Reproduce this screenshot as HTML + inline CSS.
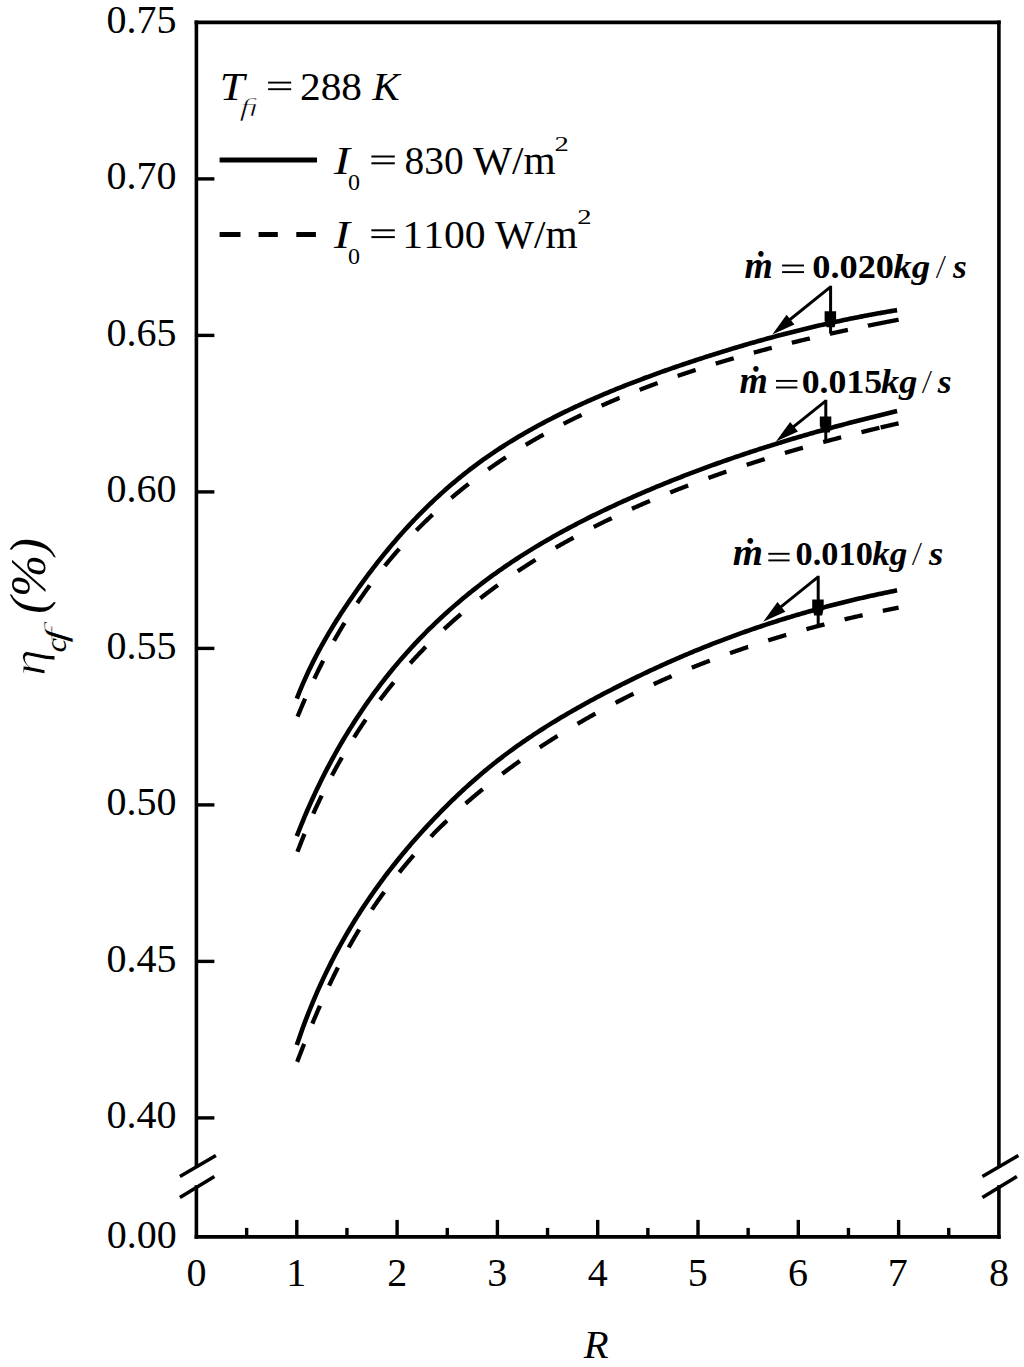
<!DOCTYPE html>
<html><head><meta charset="utf-8"><title>chart</title><style>
html,body{margin:0;padding:0;background:#fff;overflow:hidden;}
svg{display:block;}
text{font-family:"Liberation Serif",serif;fill:#000;font-kerning:none;}
</style></head><body>
<svg width="1024" height="1367" viewBox="0 0 1024 1367">
<rect width="1024" height="1367" fill="#fff"/>
<g stroke="#000" stroke-width="3.6" fill="none" stroke-linecap="square">
<path d="M196.4,22.4 H998.9"/>
<path d="M196.4,1236.9 H998.9"/>
<path d="M196.4,22.4 V1166.0"/>
<path d="M196.4,1187.0 V1236.9"/>
<path d="M998.9,22.4 V1166.0"/>
<path d="M998.9,1187.0 V1236.9"/>
</g>
<g stroke="#000" stroke-width="3.6" fill="none">
<path d="M179.9,1176.5 L215.9,1155.5"/>
<path d="M179.9,1197.5 L214.4,1176.5"/>
<path d="M982.4,1176.5 L1018.4,1155.5"/>
<path d="M982.4,1197.5 L1016.9,1176.5"/>
</g>
<g stroke="#000" stroke-width="3.4" fill="none">
<path d="M196.4,1117.90 H214.4"/>
<path d="M196.4,961.40 H214.4"/>
<path d="M196.4,804.90 H214.4"/>
<path d="M196.4,648.40 H214.4"/>
<path d="M196.4,491.90 H214.4"/>
<path d="M196.4,335.40 H214.4"/>
<path d="M196.4,178.90 H214.4"/>
<path d="M246.65,1236.9 V1227.9"/>
<path d="M296.80,1236.9 V1219.9"/>
<path d="M346.95,1236.9 V1227.9"/>
<path d="M397.10,1236.9 V1219.9"/>
<path d="M447.25,1236.9 V1227.9"/>
<path d="M497.40,1236.9 V1219.9"/>
<path d="M547.55,1236.9 V1227.9"/>
<path d="M597.70,1236.9 V1219.9"/>
<path d="M647.85,1236.9 V1227.9"/>
<path d="M698.00,1236.9 V1219.9"/>
<path d="M748.15,1236.9 V1227.9"/>
<path d="M798.30,1236.9 V1219.9"/>
<path d="M848.45,1236.9 V1227.9"/>
<path d="M898.60,1236.9 V1219.9"/>
<path d="M948.75,1236.9 V1227.9"/>
</g>
<text transform="translate(108.05,1128.20)" x="-1.52" y="0" style="font-size:40.00px;" >0.40</text>
<text transform="translate(108.09,971.70)" x="-1.52" y="0" style="font-size:40.00px;" >0.45</text>
<text transform="translate(108.05,815.20)" x="-1.52" y="0" style="font-size:40.00px;" >0.50</text>
<text transform="translate(108.09,658.70)" x="-1.52" y="0" style="font-size:40.00px;" >0.55</text>
<text transform="translate(108.05,502.20)" x="-1.52" y="0" style="font-size:40.00px;" >0.60</text>
<text transform="translate(108.09,345.70)" x="-1.52" y="0" style="font-size:40.00px;" >0.65</text>
<text transform="translate(108.05,189.20)" x="-1.52" y="0" style="font-size:40.00px;" >0.70</text>
<text transform="translate(108.09,32.70)" x="-1.52" y="0" style="font-size:40.00px;" >0.75</text>
<text transform="translate(108.25,1247.90)" x="-1.52" y="0" style="font-size:40.00px;" >0.00</text>
<text transform="translate(188.02,1286.00)" x="-1.52" y="0" style="font-size:40.00px;" >0</text>
<text transform="translate(289.76,1286.00)" x="-3.52" y="0" style="font-size:40.00px;" >1</text>
<text transform="translate(389.08,1286.00)" x="-1.76" y="0" style="font-size:40.00px;" >2</text>
<text transform="translate(489.14,1286.00)" x="-1.91" y="0" style="font-size:40.00px;" >3</text>
<text transform="translate(588.40,1286.00)" x="-0.78" y="0" style="font-size:40.00px;" >4</text>
<text transform="translate(689.94,1286.00)" x="-2.32" y="0" style="font-size:40.00px;" >5</text>
<text transform="translate(789.76,1286.00)" x="-1.72" y="0" style="font-size:40.00px;" >6</text>
<text transform="translate(890.49,1286.00)" x="-2.64" y="0" style="font-size:40.00px;" >7</text>
<text transform="translate(990.42,1286.00)" x="-1.52" y="0" style="font-size:40.00px;" >8</text>
<text transform="translate(583.50,1358.30) scale(1.0173,1)" x="0.21" y="0" style="font-size:40.00px;font-style:italic;" >R</text>
<g transform="rotate(-90)">
<text transform="translate(-674.20,45.40) scale(1.1239,1)" x="-1.71" y="0" style="font-size:48.00px;font-style:italic;" stroke="#fff" stroke-width="0.9">η</text>
<text transform="translate(-651.60,66.20) scale(1.0900,1)" x="-0.93" y="0" style="font-size:30.10px;font-style:italic;" >c</text>
<text transform="translate(-642.80,66.30) scale(1.8150,1)" x="-0.35" y="0" style="font-size:31.60px;font-style:italic;" stroke="#fff" stroke-width="0.6">f</text>
<text transform="translate(-612.10,45.30) scale(0.9791,1)" x="-1.81" y="0" style="font-size:51.60px;font-style:italic;" >(%)</text>
</g>
<text transform="translate(222.70,100.00) scale(1.1095,1)" x="-2.62" y="0" style="font-size:40.00px;font-style:italic;" >T</text>
<text transform="translate(239.60,116.00) scale(1.5873,1)" x="-0.28" y="0" style="font-size:25.00px;font-style:italic;" stroke="#fff" stroke-width="0.7">ﬁ</text>
<rect x="268.10" y="81.65" width="23.10" height="1.90" fill="#000"/>
<rect x="268.10" y="88.25" width="23.10" height="1.90" fill="#000"/>
<text transform="translate(301.80,100.00) scale(1.0332,1)" x="-1.76" y="0" style="font-size:40.00px;" >288</text>
<text transform="translate(372.00,100.00) scale(1.0185,1)" x="0.47" y="0" style="font-size:40.00px;font-style:italic;" >K</text>
<path d="M219.6,159.9 H317.0" stroke="#000" stroke-width="5.0"/>
<path d="M219.6,234.4 H240.5 M258.6,234.4 H277.8 M296.3,234.4 H315.9" stroke="#000" stroke-width="5.0"/>
<text transform="translate(333.80,173.80) scale(1.1969,1)" x="0.16" y="0" style="font-size:40.00px;font-style:italic;" >I</text>
<text transform="translate(348.90,190.10)" x="-0.91" y="0" style="font-size:24.00px;" >0</text>
<rect x="371.40" y="155.50" width="23.40" height="2.00" fill="#000"/>
<rect x="371.40" y="162.30" width="23.40" height="2.00" fill="#000"/>
<text transform="translate(406.00,173.80) scale(0.9850,1)" x="-1.52" y="0" style="font-size:40.00px;" >830</text>
<text transform="translate(473.10,173.80) scale(1.0338,1)" x="-0.04" y="0" style="font-size:40.00px;" >W/m</text>
<text transform="translate(555.70,150.50) scale(1.3040,1)" x="-0.97" y="0" style="font-size:22.00px;" >2</text>
<text transform="translate(333.80,247.60) scale(1.1969,1)" x="0.16" y="0" style="font-size:40.00px;font-style:italic;" >I</text>
<text transform="translate(348.90,263.90)" x="-0.91" y="0" style="font-size:24.00px;" >0</text>
<rect x="371.40" y="229.30" width="23.40" height="2.00" fill="#000"/>
<rect x="371.40" y="236.10" width="23.40" height="2.00" fill="#000"/>
<text transform="translate(406.00,247.60) scale(1.0405,1)" x="-3.52" y="0" style="font-size:40.00px;" >1100</text>
<text transform="translate(495.00,247.60) scale(1.0338,1)" x="-0.04" y="0" style="font-size:40.00px;" >W/m</text>
<text transform="translate(578.40,224.30) scale(1.3040,1)" x="-0.97" y="0" style="font-size:22.00px;" >2</text>
<g stroke="#000" fill="none" stroke-width="4.6" stroke-linejoin="round" stroke-linecap="butt">
<path d="M296.80,698.58 L298.81,693.52 L300.82,688.63 L302.82,683.90 L304.83,679.33 L306.84,674.89 L308.85,670.58 L310.85,666.39 L312.86,662.31 L314.87,658.34 L316.88,654.47 L318.88,650.68 L320.89,646.98 L322.90,643.36 L324.91,639.82 L326.92,636.34 L328.92,632.93 L330.93,629.57 L332.94,626.28 L334.95,623.03 L336.95,619.84 L338.96,616.69 L340.97,613.58 L342.98,610.51 L344.98,607.48 L346.99,604.49 L349.00,601.53 L351.01,598.60 L353.01,595.69 L355.02,592.82 L357.03,589.97 L359.04,587.15 L361.05,584.35 L363.05,581.58 L365.06,578.84 L367.07,576.13 L369.08,573.44 L371.08,570.78 L373.09,568.15 L375.10,565.54 L377.11,562.96 L379.11,560.40 L381.12,557.88 L383.13,555.37 L385.14,552.90 L387.15,550.45 L389.15,548.02 L391.16,545.62 L393.17,543.25 L395.18,540.90 L397.18,538.58 L399.19,536.28 L401.20,534.01 L403.21,531.76 L405.21,529.53 L407.22,527.33 L409.23,525.16 L411.24,523.00 L413.25,520.87 L415.25,518.77 L417.26,516.68 L419.27,514.62 L421.28,512.58 L423.28,510.57 L425.29,508.57 L427.30,506.60 L429.31,504.65 L431.31,502.72 L433.32,500.81 L435.33,498.93 L437.34,497.06 L439.34,495.22 L441.35,493.39 L443.36,491.59 L445.37,489.81 L447.38,488.04 L449.38,486.30 L451.39,484.57 L453.40,482.87 L455.41,481.18 L457.41,479.52 L459.42,477.87 L461.43,476.24 L463.44,474.63 L465.44,473.03 L467.45,471.46 L469.46,469.90 L471.47,468.36 L473.48,466.84 L475.48,465.34 L477.49,463.85 L479.50,462.38 L481.51,460.93 L483.51,459.49 L485.52,458.07 L487.53,456.66 L489.54,455.27 L491.54,453.90 L493.55,452.54 L495.56,451.19 L497.57,449.86 L499.57,448.54 L501.58,447.24 L503.59,445.95 L505.60,444.67 L507.61,443.41 L509.61,442.16 L511.62,440.92 L513.63,439.69 L515.64,438.48 L517.64,437.27 L519.65,436.08 L521.66,434.90 L523.67,433.73 L525.67,432.58 L527.68,431.43 L529.69,430.29 L531.70,429.17 L533.71,428.05 L535.71,426.94 L537.72,425.85 L539.73,424.76 L541.74,423.68 L543.74,422.61 L545.75,421.56 L547.76,420.51 L549.77,419.46 L551.77,418.43 L553.78,417.41 L555.79,416.39 L557.80,415.38 L559.81,414.39 L561.81,413.39 L563.82,412.41 L565.83,411.43 L567.84,410.47 L569.84,409.51 L571.85,408.55 L573.86,407.61 L575.87,406.67 L577.87,405.74 L579.88,404.81 L581.89,403.89 L583.90,402.98 L585.90,402.07 L587.91,401.18 L589.92,400.28 L591.93,399.40 L593.94,398.52 L595.94,397.64 L597.95,396.78 L599.96,395.91 L601.97,395.06 L603.97,394.21 L605.98,393.36 L607.99,392.52 L610.00,391.69 L612.00,390.86 L614.01,390.04 L616.02,389.22 L618.03,388.41 L620.04,387.60 L622.04,386.80 L624.05,386.00 L626.06,385.20 L628.07,384.42 L630.07,383.63 L632.08,382.85 L634.09,382.08 L636.10,381.31 L638.10,380.54 L640.11,379.78 L642.12,379.03 L644.13,378.27 L646.14,377.53 L648.14,376.78 L650.15,376.04 L652.16,375.31 L654.17,374.58 L656.17,373.85 L658.18,373.12 L660.19,372.40 L662.20,371.69 L664.20,370.97 L666.21,370.27 L668.22,369.56 L670.23,368.86 L672.23,368.16 L674.24,367.46 L676.25,366.77 L678.26,366.09 L680.27,365.40 L682.27,364.72 L684.28,364.04 L686.29,363.37 L688.30,362.70 L690.30,362.03 L692.31,361.36 L694.32,360.70 L696.33,360.04 L698.33,359.38 L700.34,358.73 L702.35,358.08 L704.36,357.43 L706.37,356.79 L708.37,356.15 L710.38,355.51 L712.39,354.87 L714.40,354.24 L716.40,353.61 L718.41,352.98 L720.42,352.35 L722.43,351.73 L724.43,351.11 L726.44,350.50 L728.45,349.88 L730.46,349.27 L732.47,348.66 L734.47,348.06 L736.48,347.46 L738.49,346.86 L740.50,346.26 L742.50,345.67 L744.51,345.08 L746.52,344.50 L748.53,343.91 L750.53,343.33 L752.54,342.76 L754.55,342.18 L756.56,341.61 L758.56,341.05 L760.57,340.48 L762.58,339.92 L764.59,339.37 L766.60,338.81 L768.60,338.26 L770.61,337.71 L772.62,337.17 L774.63,336.63 L776.63,336.09 L778.64,335.56 L780.65,335.03 L782.66,334.50 L784.66,333.98 L786.67,333.46 L788.68,332.94 L790.69,332.42 L792.70,331.91 L794.70,331.41 L796.71,330.90 L798.72,330.40 L800.73,329.91 L802.73,329.41 L804.74,328.92 L806.75,328.44 L808.76,327.96 L810.76,327.48 L812.77,327.00 L814.78,326.53 L816.79,326.06 L818.79,325.59 L820.80,325.13 L822.81,324.67 L824.82,324.22 L826.83,323.77 L828.83,323.32 L830.84,322.87 L832.85,322.43 L834.86,321.99 L836.86,321.56 L838.87,321.13 L840.88,320.70 L842.89,320.28 L844.89,319.86 L846.90,319.44 L848.91,319.03 L850.92,318.62 L852.93,318.21 L854.93,317.81 L856.94,317.41 L858.95,317.01 L860.96,316.62 L862.96,316.23 L864.97,315.84 L866.98,315.46 L868.99,315.08 L870.99,314.71 L873.00,314.33 L875.01,313.96 L877.02,313.60 L879.03,313.24 L881.03,312.88 L883.04,312.52 L885.05,312.17 L887.06,311.82 L889.06,311.48 L891.07,311.14 L893.08,310.80 L895.09,310.47 L897.09,310.14"/>
<path d="M296.80,836.17 L298.81,831.01 L300.82,825.98 L302.82,821.05 L304.83,816.23 L306.84,811.52 L308.85,806.90 L310.85,802.38 L312.86,797.94 L314.87,793.60 L316.88,789.34 L318.88,785.15 L320.89,781.05 L322.90,777.02 L324.91,773.06 L326.92,769.17 L328.92,765.34 L330.93,761.59 L332.94,757.89 L334.95,754.25 L336.95,750.67 L338.96,747.15 L340.97,743.68 L342.98,740.27 L344.98,736.91 L346.99,733.59 L349.00,730.32 L351.01,727.10 L353.01,723.93 L355.02,720.80 L357.03,717.71 L359.04,714.67 L361.05,711.66 L363.05,708.70 L365.06,705.78 L367.07,702.89 L369.08,700.04 L371.08,697.23 L373.09,694.46 L375.10,691.72 L377.11,689.01 L379.11,686.34 L381.12,683.71 L383.13,681.10 L385.14,678.53 L387.15,675.99 L389.15,673.48 L391.16,671.01 L393.17,668.56 L395.18,666.14 L397.18,663.75 L399.19,661.38 L401.20,659.05 L403.21,656.74 L405.21,654.46 L407.22,652.20 L409.23,649.97 L411.24,647.77 L413.25,645.59 L415.25,643.43 L417.26,641.30 L419.27,639.19 L421.28,637.11 L423.28,635.05 L425.29,633.01 L427.30,630.99 L429.31,628.99 L431.31,627.02 L433.32,625.06 L435.33,623.13 L437.34,621.22 L439.34,619.32 L441.35,617.45 L443.36,615.60 L445.37,613.76 L447.38,611.94 L449.38,610.15 L451.39,608.37 L453.40,606.61 L455.41,604.86 L457.41,603.14 L459.42,601.43 L461.43,599.73 L463.44,598.06 L465.44,596.40 L467.45,594.75 L469.46,593.12 L471.47,591.51 L473.48,589.91 L475.48,588.33 L477.49,586.77 L479.50,585.21 L481.51,583.67 L483.51,582.15 L485.52,580.64 L487.53,579.14 L489.54,577.66 L491.54,576.19 L493.55,574.73 L495.56,573.29 L497.57,571.86 L499.57,570.44 L501.58,569.04 L503.59,567.64 L505.60,566.26 L507.61,564.89 L509.61,563.54 L511.62,562.19 L513.63,560.86 L515.64,559.53 L517.64,558.22 L519.65,556.92 L521.66,555.63 L523.67,554.35 L525.67,553.08 L527.68,551.83 L529.69,550.58 L531.70,549.34 L533.71,548.11 L535.71,546.90 L537.72,545.69 L539.73,544.49 L541.74,543.30 L543.74,542.12 L545.75,540.95 L547.76,539.78 L549.77,538.63 L551.77,537.48 L553.78,536.35 L555.79,535.22 L557.80,534.10 L559.81,532.98 L561.81,531.88 L563.82,530.78 L565.83,529.69 L567.84,528.61 L569.84,527.54 L571.85,526.47 L573.86,525.41 L575.87,524.36 L577.87,523.31 L579.88,522.27 L581.89,521.24 L583.90,520.21 L585.90,519.19 L587.91,518.18 L589.92,517.17 L591.93,516.17 L593.94,515.18 L595.94,514.19 L597.95,513.21 L599.96,512.23 L601.97,511.26 L603.97,510.29 L605.98,509.34 L607.99,508.38 L610.00,507.43 L612.00,506.49 L614.01,505.55 L616.02,504.62 L618.03,503.69 L620.04,502.77 L622.04,501.85 L624.05,500.94 L626.06,500.04 L628.07,499.13 L630.07,498.24 L632.08,497.34 L634.09,496.46 L636.10,495.57 L638.10,494.69 L640.11,493.82 L642.12,492.95 L644.13,492.09 L646.14,491.23 L648.14,490.37 L650.15,489.52 L652.16,488.67 L654.17,487.83 L656.17,486.99 L658.18,486.16 L660.19,485.33 L662.20,484.51 L664.20,483.69 L666.21,482.87 L668.22,482.06 L670.23,481.25 L672.23,480.45 L674.24,479.65 L676.25,478.85 L678.26,478.06 L680.27,477.27 L682.27,476.49 L684.28,475.71 L686.29,474.93 L688.30,474.16 L690.30,473.39 L692.31,472.63 L694.32,471.87 L696.33,471.11 L698.33,470.36 L700.34,469.61 L702.35,468.87 L704.36,468.13 L706.37,467.39 L708.37,466.65 L710.38,465.92 L712.39,465.20 L714.40,464.47 L716.40,463.75 L718.41,463.04 L720.42,462.32 L722.43,461.62 L724.43,460.91 L726.44,460.21 L728.45,459.51 L730.46,458.81 L732.47,458.12 L734.47,457.43 L736.48,456.75 L738.49,456.07 L740.50,455.39 L742.50,454.71 L744.51,454.04 L746.52,453.37 L748.53,452.70 L750.53,452.04 L752.54,451.38 L754.55,450.72 L756.56,450.07 L758.56,449.42 L760.57,448.77 L762.58,448.13 L764.59,447.49 L766.60,446.85 L768.60,446.22 L770.61,445.58 L772.62,444.95 L774.63,444.33 L776.63,443.70 L778.64,443.08 L780.65,442.47 L782.66,441.85 L784.66,441.24 L786.67,440.63 L788.68,440.02 L790.69,439.42 L792.70,438.82 L794.70,438.22 L796.71,437.63 L798.72,437.04 L800.73,436.45 L802.73,435.86 L804.74,435.28 L806.75,434.69 L808.76,434.11 L810.76,433.54 L812.77,432.96 L814.78,432.39 L816.79,431.83 L818.79,431.26 L820.80,430.70 L822.81,430.14 L824.82,429.58 L826.83,429.02 L828.83,428.47 L830.84,427.92 L832.85,427.37 L834.86,426.82 L836.86,426.28 L838.87,425.74 L840.88,425.20 L842.89,424.66 L844.89,424.13 L846.90,423.60 L848.91,423.07 L850.92,422.54 L852.93,422.02 L854.93,421.50 L856.94,420.98 L858.95,420.46 L860.96,419.94 L862.96,419.43 L864.97,418.92 L866.98,418.41 L868.99,417.91 L870.99,417.40 L873.00,416.90 L875.01,416.40 L877.02,415.90 L879.03,415.41 L881.03,414.91 L883.04,414.42 L885.05,413.93 L887.06,413.45 L889.06,412.96 L891.07,412.48 L893.08,412.00 L895.09,411.52 L897.09,411.05"/>
<path d="M296.80,1045.05 L298.81,1039.14 L300.82,1033.41 L302.82,1027.83 L304.83,1022.41 L306.84,1017.14 L308.85,1012.01 L310.85,1007.00 L312.86,1002.12 L314.87,997.36 L316.88,992.71 L318.88,988.17 L320.89,983.73 L322.90,979.38 L324.91,975.13 L326.92,970.97 L328.92,966.89 L330.93,962.89 L332.94,958.97 L334.95,955.12 L336.95,951.35 L338.96,947.64 L340.97,943.99 L342.98,940.41 L344.98,936.89 L346.99,933.42 L349.00,930.01 L351.01,926.65 L353.01,923.34 L355.02,920.08 L357.03,916.87 L359.04,913.70 L361.05,910.58 L363.05,907.50 L365.06,904.47 L367.07,901.47 L369.08,898.52 L371.08,895.60 L373.09,892.72 L375.10,889.87 L377.11,887.06 L379.11,884.29 L381.12,881.55 L383.13,878.84 L385.14,876.16 L387.15,873.51 L389.15,870.89 L391.16,868.30 L393.17,865.74 L395.18,863.21 L397.18,860.70 L399.19,858.22 L401.20,855.77 L403.21,853.34 L405.21,850.93 L407.22,848.55 L409.23,846.19 L411.24,843.86 L413.25,841.54 L415.25,839.25 L417.26,836.98 L419.27,834.73 L421.28,832.50 L423.28,830.29 L425.29,828.10 L427.30,825.92 L429.31,823.77 L431.31,821.63 L433.32,819.52 L435.33,817.42 L437.34,815.33 L439.34,813.26 L441.35,811.21 L443.36,809.18 L445.37,807.16 L447.38,805.16 L449.38,803.18 L451.39,801.21 L453.40,799.26 L455.41,797.33 L457.41,795.42 L459.42,793.52 L461.43,791.64 L463.44,789.77 L465.44,787.93 L467.45,786.10 L469.46,784.28 L471.47,782.49 L473.48,780.71 L475.48,778.94 L477.49,777.20 L479.50,775.47 L481.51,773.76 L483.51,772.06 L485.52,770.38 L487.53,768.72 L489.54,767.08 L491.54,765.45 L493.55,763.83 L495.56,762.24 L497.57,760.66 L499.57,759.09 L501.58,757.55 L503.59,756.01 L505.60,754.50 L507.61,753.00 L509.61,751.51 L511.62,750.04 L513.63,748.58 L515.64,747.13 L517.64,745.70 L519.65,744.28 L521.66,742.88 L523.67,741.49 L525.67,740.11 L527.68,738.74 L529.69,737.38 L531.70,736.04 L533.71,734.70 L535.71,733.38 L537.72,732.07 L539.73,730.77 L541.74,729.47 L543.74,728.19 L545.75,726.92 L547.76,725.66 L549.77,724.41 L551.77,723.17 L553.78,721.93 L555.79,720.71 L557.80,719.49 L559.81,718.29 L561.81,717.09 L563.82,715.90 L565.83,714.72 L567.84,713.54 L569.84,712.37 L571.85,711.22 L573.86,710.06 L575.87,708.92 L577.87,707.78 L579.88,706.65 L581.89,705.53 L583.90,704.41 L585.90,703.30 L587.91,702.20 L589.92,701.10 L591.93,700.01 L593.94,698.93 L595.94,697.85 L597.95,696.78 L599.96,695.71 L601.97,694.65 L603.97,693.59 L605.98,692.54 L607.99,691.50 L610.00,690.46 L612.00,689.42 L614.01,688.39 L616.02,687.37 L618.03,686.35 L620.04,685.33 L622.04,684.32 L624.05,683.32 L626.06,682.32 L628.07,681.32 L630.07,680.33 L632.08,679.34 L634.09,678.36 L636.10,677.39 L638.10,676.42 L640.11,675.45 L642.12,674.49 L644.13,673.53 L646.14,672.58 L648.14,671.63 L650.15,670.69 L652.16,669.76 L654.17,668.82 L656.17,667.90 L658.18,666.98 L660.19,666.06 L662.20,665.15 L664.20,664.24 L666.21,663.34 L668.22,662.44 L670.23,661.55 L672.23,660.66 L674.24,659.78 L676.25,658.90 L678.26,658.03 L680.27,657.16 L682.27,656.30 L684.28,655.45 L686.29,654.59 L688.30,653.75 L690.30,652.90 L692.31,652.07 L694.32,651.23 L696.33,650.40 L698.33,649.58 L700.34,648.76 L702.35,647.95 L704.36,647.14 L706.37,646.34 L708.37,645.54 L710.38,644.75 L712.39,643.96 L714.40,643.17 L716.40,642.39 L718.41,641.62 L720.42,640.85 L722.43,640.09 L724.43,639.33 L726.44,638.57 L728.45,637.82 L730.46,637.07 L732.47,636.33 L734.47,635.60 L736.48,634.86 L738.49,634.14 L740.50,633.42 L742.50,632.70 L744.51,631.98 L746.52,631.28 L748.53,630.57 L750.53,629.87 L752.54,629.18 L754.55,628.49 L756.56,627.80 L758.56,627.12 L760.57,626.45 L762.58,625.77 L764.59,625.11 L766.60,624.44 L768.60,623.79 L770.61,623.13 L772.62,622.48 L774.63,621.84 L776.63,621.20 L778.64,620.56 L780.65,619.93 L782.66,619.30 L784.66,618.68 L786.67,618.06 L788.68,617.45 L790.69,616.84 L792.70,616.23 L794.70,615.63 L796.71,615.04 L798.72,614.44 L800.73,613.86 L802.73,613.27 L804.74,612.69 L806.75,612.12 L808.76,611.54 L810.76,610.98 L812.77,610.42 L814.78,609.86 L816.79,609.30 L818.79,608.75 L820.80,608.21 L822.81,607.66 L824.82,607.12 L826.83,606.59 L828.83,606.06 L830.84,605.54 L832.85,605.01 L834.86,604.50 L836.86,603.98 L838.87,603.47 L840.88,602.97 L842.89,602.46 L844.89,601.97 L846.90,601.47 L848.91,600.98 L850.92,600.50 L852.93,600.01 L854.93,599.54 L856.94,599.06 L858.95,598.59 L860.96,598.12 L862.96,597.66 L864.97,597.20 L866.98,596.75 L868.99,596.29 L870.99,595.85 L873.00,595.40 L875.01,594.96 L877.02,594.53 L879.03,594.09 L881.03,593.66 L883.04,593.24 L885.05,592.82 L887.06,592.40 L889.06,591.98 L891.07,591.57 L893.08,591.17 L895.09,590.76 L897.09,590.36"/>
<path d="M297.52,716.68 L297.80,715.99 L298.31,714.76 L298.81,713.54 L299.31,712.33 L299.81,711.12 L300.31,709.92 L300.82,708.73 L301.32,707.54 L301.82,706.35 L302.32,705.18 L302.82,704.00 L303.32,702.84 L303.83,701.68 L304.33,700.52 L304.83,699.38 L305.13,698.69 M314.31,678.66 L314.37,678.55 L314.87,677.50 L315.37,676.46 L315.87,675.42 L316.37,674.39 L316.88,673.36 L317.38,672.34 L317.88,671.32 L318.38,670.30 L318.88,669.29 L319.39,668.29 L319.89,667.29 L320.39,666.29 L320.89,665.30 L321.39,664.31 L321.90,663.33 L322.40,662.35 L322.90,661.37 L323.24,660.71 M334.05,640.73 L334.44,640.03 L334.95,639.15 L335.45,638.27 L335.95,637.40 L336.45,636.52 L336.95,635.65 L337.46,634.79 L337.96,633.93 L338.46,633.07 L338.96,632.21 L339.46,631.36 L339.96,630.51 L340.47,629.67 L340.97,628.82 L341.47,627.99 L341.97,627.15 L342.47,626.32 L342.98,625.49 L343.48,624.66 L343.98,623.84 L344.48,623.02 L344.58,622.86 M357.34,603.03 L357.53,602.75 L358.03,602.00 L358.54,601.27 L359.04,600.53 L359.54,599.79 L360.04,599.06 L360.54,598.33 L361.05,597.61 L361.55,596.88 L362.05,596.16 L362.55,595.44 L363.05,594.73 L363.56,594.01 L364.06,593.30 L364.56,592.59 L365.06,591.89 L365.56,591.18 L366.06,590.48 L366.57,589.78 L367.07,589.08 L367.57,588.39 L368.07,587.70 L368.57,587.01 L369.08,586.32 L369.58,585.64 L369.77,585.37 M384.76,565.95 L385.14,565.49 L385.64,564.87 L386.14,564.25 L386.64,563.64 L387.15,563.03 L387.65,562.42 L388.15,561.81 L388.65,561.21 L389.15,560.61 L389.65,560.00 L390.16,559.40 L390.66,558.81 L391.16,558.21 L391.66,557.62 L392.16,557.02 L392.67,556.43 L393.17,555.84 L393.67,555.26 L394.17,554.67 L394.67,554.09 L395.18,553.51 L395.68,552.93 L396.18,552.35 L396.68,551.77 L397.18,551.20 L397.69,550.63 L398.19,550.06 L398.69,549.49 L399.19,548.92 L399.23,548.87 M416.41,530.43 L416.76,530.07 L417.26,529.56 L417.76,529.05 L418.26,528.54 L418.77,528.04 L419.27,527.53 L419.77,527.03 L420.27,526.53 L420.77,526.02 L421.28,525.53 L421.78,525.03 L422.28,524.53 L422.78,524.03 L423.28,523.54 L423.79,523.05 L424.29,522.56 L424.79,522.07 L425.29,521.58 L425.79,521.09 L426.29,520.60 L426.80,520.12 L427.30,519.64 L427.80,519.15 L428.30,518.67 L428.80,518.19 L429.31,517.72 L429.81,517.24 L430.31,516.76 L430.81,516.29 L431.31,515.82 L431.82,515.34 L432.32,514.87 L432.62,514.60 M451.36,497.91 L451.39,497.89 L451.89,497.47 L452.39,497.04 L452.90,496.62 L453.40,496.20 L453.90,495.78 L454.40,495.36 L454.90,494.94 L455.41,494.52 L455.91,494.11 L456.41,493.69 L456.91,493.28 L457.41,492.86 L457.92,492.45 L458.42,492.04 L458.92,491.63 L459.42,491.22 L459.92,490.81 L460.43,490.41 L460.93,490.00 L461.43,489.60 L461.93,489.19 L462.43,488.79 L462.93,488.39 L463.44,487.99 L463.94,487.59 L464.44,487.19 L464.94,486.79 L465.44,486.39 L465.95,486.00 L466.45,485.60 L466.95,485.21 L467.45,484.81 L467.95,484.42 L468.46,484.03 L468.62,483.90 M488.16,469.39 L488.53,469.12 L489.03,468.77 L489.54,468.41 L490.04,468.06 L490.54,467.71 L491.04,467.36 L491.54,467.01 L492.05,466.66 L492.55,466.31 L493.05,465.96 L493.55,465.61 L494.05,465.26 L494.56,464.92 L495.06,464.57 L495.56,464.23 L496.06,463.88 L496.56,463.54 L497.07,463.20 L497.57,462.86 L498.07,462.52 L498.57,462.18 L499.07,461.84 L499.57,461.50 L500.08,461.16 L500.58,460.82 L501.08,460.49 L501.58,460.15 L502.08,459.82 L502.59,459.48 L503.09,459.15 L503.59,458.82 L504.09,458.49 L504.59,458.16 L505.10,457.83 L505.60,457.50 L505.88,457.31 M525.74,444.86 L526.18,444.60 L526.68,444.30 L527.18,444.00 L527.68,443.70 L528.18,443.40 L528.69,443.10 L529.19,442.80 L529.69,442.51 L530.19,442.21 L530.69,441.92 L531.20,441.62 L531.70,441.33 L532.20,441.03 L532.70,440.74 L533.20,440.45 L533.71,440.16 L534.21,439.86 L534.71,439.57 L535.21,439.28 L535.71,438.99 L536.22,438.71 L536.72,438.42 L537.22,438.13 L537.72,437.84 L538.22,437.56 L538.72,437.27 L539.23,436.99 L539.73,436.70 L540.23,436.42 L540.73,436.13 L541.23,435.85 L541.74,435.57 L542.24,435.29 L542.74,435.01 L543.24,434.73 L543.63,434.51 M563.61,423.82 L563.82,423.71 L564.32,423.45 L564.82,423.19 L565.33,422.94 L565.83,422.68 L566.33,422.42 L566.83,422.17 L567.33,421.91 L567.84,421.66 L568.34,421.41 L568.84,421.15 L569.34,420.90 L569.84,420.65 L570.35,420.40 L570.85,420.15 L571.35,419.90 L571.85,419.65 L572.35,419.40 L572.86,419.15 L573.36,418.90 L573.86,418.65 L574.36,418.40 L574.86,418.16 L575.36,417.91 L575.87,417.66 L576.37,417.42 L576.87,417.17 L577.37,416.93 L577.87,416.68 L578.38,416.44 L578.88,416.20 L579.38,415.95 L579.88,415.71 L580.38,415.47 L580.89,415.23 L581.39,414.99 L581.56,414.90 M601.59,405.66 L601.97,405.49 L602.47,405.27 L602.97,405.05 L603.47,404.82 L603.97,404.60 L604.48,404.38 L604.98,404.16 L605.48,403.94 L605.98,403.72 L606.48,403.50 L606.99,403.28 L607.49,403.06 L607.99,402.85 L608.49,402.63 L608.99,402.41 L609.50,402.19 L610.00,401.98 L610.50,401.76 L611.00,401.54 L611.50,401.33 L612.00,401.11 L612.51,400.90 L613.01,400.68 L613.51,400.47 L614.01,400.26 L614.51,400.04 L615.02,399.83 L615.52,399.62 L616.02,399.41 L616.52,399.20 L617.02,398.98 L617.53,398.77 L618.03,398.56 L618.53,398.35 L619.03,398.14 L619.53,397.93 L619.57,397.92 M639.62,389.85 L640.11,389.66 L640.61,389.46 L641.12,389.27 L641.62,389.07 L642.12,388.88 L642.62,388.68 L643.12,388.49 L643.63,388.30 L644.13,388.11 L644.63,387.91 L645.13,387.72 L645.63,387.53 L646.14,387.34 L646.64,387.15 L647.14,386.96 L647.64,386.77 L648.14,386.58 L648.64,386.39 L649.15,386.20 L649.65,386.01 L650.15,385.82 L650.65,385.64 L651.15,385.45 L651.66,385.26 L652.16,385.07 L652.66,384.89 L653.16,384.70 L653.66,384.51 L654.17,384.33 L654.67,384.14 L655.17,383.96 L655.67,383.77 L656.17,383.59 L656.68,383.40 L657.18,383.22 L657.61,383.06 M677.66,375.95 L677.76,375.92 L678.26,375.75 L678.76,375.57 L679.26,375.40 L679.76,375.23 L680.27,375.06 L680.77,374.89 L681.27,374.72 L681.77,374.55 L682.27,374.38 L682.78,374.21 L683.28,374.04 L683.78,373.87 L684.28,373.70 L684.78,373.53 L685.28,373.36 L685.79,373.20 L686.29,373.03 L686.79,372.86 L687.29,372.69 L687.79,372.53 L688.30,372.36 L688.80,372.19 L689.30,372.03 L689.80,371.86 L690.30,371.70 L690.81,371.53 L691.31,371.36 L691.81,371.20 L692.31,371.04 L692.81,370.87 L693.32,370.71 L693.82,370.54 L694.32,370.38 L694.82,370.22 L695.32,370.05 L695.66,369.94 M715.72,363.63 L715.90,363.57 L716.40,363.42 L716.91,363.27 L717.41,363.11 L717.91,362.96 L718.41,362.81 L718.91,362.66 L719.42,362.51 L719.92,362.35 L720.42,362.20 L720.92,362.05 L721.42,361.90 L721.92,361.75 L722.43,361.60 L722.93,361.45 L723.43,361.30 L723.93,361.15 L724.43,361.00 L724.94,360.85 L725.44,360.70 L725.94,360.55 L726.44,360.41 L726.94,360.26 L727.45,360.11 L727.95,359.96 L728.45,359.81 L728.95,359.67 L729.45,359.52 L729.96,359.37 L730.46,359.22 L730.96,359.08 L731.46,358.93 L731.96,358.79 L732.47,358.64 L732.97,358.49 L733.47,358.35 L733.71,358.28 M753.77,352.63 L754.05,352.56 L754.55,352.42 L755.05,352.28 L755.55,352.14 L756.06,352.01 L756.56,351.87 L757.06,351.74 L757.56,351.60 L758.06,351.46 L758.56,351.33 L759.07,351.19 L759.57,351.06 L760.07,350.92 L760.57,350.79 L761.07,350.65 L761.58,350.52 L762.08,350.38 L762.58,350.25 L763.08,350.12 L763.58,349.98 L764.09,349.85 L764.59,349.72 L765.09,349.58 L765.59,349.45 L766.09,349.32 L766.60,349.18 L767.10,349.05 L767.60,348.92 L768.10,348.79 L768.60,348.66 L769.11,348.52 L769.61,348.39 L770.11,348.26 L770.61,348.13 L771.11,348.00 L771.61,347.87 L771.77,347.83 M791.83,342.75 L792.19,342.66 L792.70,342.53 L793.20,342.41 L793.70,342.29 L794.20,342.16 L794.70,342.04 L795.20,341.92 L795.71,341.80 L796.21,341.67 L796.71,341.55 L797.21,341.43 L797.71,341.31 L798.22,341.19 L798.72,341.06 L799.22,340.94 L799.72,340.82 L800.22,340.70 L800.73,340.58 L801.23,340.46 L801.73,340.34 L802.23,340.22 L802.73,340.10 L803.24,339.98 L803.74,339.86 L804.24,339.74 L804.74,339.62 L805.24,339.50 L805.75,339.38 L806.25,339.26 L806.75,339.14 L807.25,339.02 L807.75,338.90 L808.25,338.78 L808.76,338.67 L809.26,338.55 L809.76,338.43 L809.83,338.41 M829.89,333.82 L830.34,333.72 L830.84,333.61 L831.34,333.49 L831.84,333.38 L832.35,333.27 L832.85,333.16 L833.35,333.05 L833.85,332.94 L834.35,332.83 L834.86,332.72 L835.36,332.60 L835.86,332.49 L836.36,332.38 L836.86,332.27 L837.37,332.16 L837.87,332.05 L838.37,331.94 L838.87,331.83 L839.37,331.72 L839.88,331.62 L840.38,331.51 L840.88,331.40 L841.38,331.29 L841.88,331.18 L842.39,331.07 L842.89,330.96 L843.39,330.85 L843.89,330.75 L844.39,330.64 L844.89,330.53 L845.40,330.42 L845.90,330.31 L846.40,330.21 L846.90,330.10 L847.40,329.99 L847.89,329.89 M867.95,325.71 L867.98,325.70 L868.48,325.60 L868.99,325.50 L869.49,325.40 L869.99,325.30 L870.49,325.19 L870.99,325.09 L871.50,324.99 L872.00,324.89 L872.50,324.79 L873.00,324.69 L873.50,324.59 L874.01,324.49 L874.51,324.39 L875.01,324.29 L875.51,324.19 L876.01,324.09 L876.52,323.99 L877.02,323.89 L877.52,323.79 L878.02,323.69 L878.52,323.59 L879.03,323.49 L879.53,323.39 L880.03,323.29 L880.53,323.19 L881.03,323.09 L881.53,322.99 L882.04,322.89 L882.54,322.80 L883.04,322.70 L883.54,322.60 L884.04,322.50 L884.55,322.40 L885.05,322.31 L885.55,322.21 L886.05,322.11 L886.55,322.01 L887.06,321.91 L887.56,321.82 L888.06,321.72 L888.56,321.62 L889.06,321.53 L889.57,321.43 L890.07,321.33 L890.57,321.24 L891.07,321.14 L891.57,321.04 L892.08,320.95 L892.58,320.85 L893.08,320.75 L893.58,320.66 L894.08,320.56 L894.58,320.47 L895.09,320.37 L895.59,320.28 L896.09,320.18 L896.59,320.08 L897.09,319.99 L897.60,319.89 L898.10,319.80 L898.60,319.70 L898.60,319.70" stroke-width="4.3"/>
<path d="M297.41,851.84 L297.80,850.81 L298.31,849.51 L298.81,848.21 L299.31,846.92 L299.81,845.64 L300.31,844.37 L300.82,843.10 L301.32,841.84 L301.82,840.58 L302.32,839.33 L302.82,838.09 L303.32,836.86 L303.83,835.63 L304.33,834.41 L304.56,833.85 M313.29,813.60 L313.36,813.43 L313.87,812.31 L314.37,811.21 L314.87,810.11 L315.37,809.01 L315.87,807.92 L316.37,806.83 L316.88,805.75 L317.38,804.68 L317.88,803.61 L318.38,802.54 L318.88,801.48 L319.39,800.42 L319.89,799.37 L320.39,798.32 L320.89,797.28 L321.39,796.25 L321.69,795.63 M331.97,775.42 L332.44,774.55 L332.94,773.61 L333.44,772.68 L333.94,771.75 L334.44,770.82 L334.95,769.90 L335.45,768.98 L335.95,768.07 L336.45,767.15 L336.95,766.25 L337.46,765.34 L337.96,764.44 L338.46,763.55 L338.96,762.65 L339.46,761.76 L339.96,760.88 L340.47,759.99 L340.97,759.12 L341.47,758.24 L341.89,757.51 M354.03,737.40 L354.52,736.63 L355.02,735.84 L355.52,735.05 L356.03,734.27 L356.53,733.49 L357.03,732.71 L357.53,731.93 L358.03,731.16 L358.54,730.39 L359.04,729.62 L359.54,728.86 L360.04,728.10 L360.54,727.34 L361.05,726.58 L361.55,725.83 L362.05,725.08 L362.55,724.33 L363.05,723.58 L363.56,722.84 L364.06,722.10 L364.56,721.36 L365.06,720.62 L365.56,719.89 L365.74,719.63 M380.02,699.80 L380.12,699.68 L380.62,699.02 L381.12,698.36 L381.62,697.70 L382.13,697.04 L382.63,696.39 L383.13,695.73 L383.63,695.08 L384.13,694.43 L384.64,693.79 L385.14,693.14 L385.64,692.50 L386.14,691.86 L386.64,691.22 L387.15,690.58 L387.65,689.95 L388.15,689.32 L388.65,688.69 L389.15,688.06 L389.65,687.43 L390.16,686.81 L390.66,686.18 L391.16,685.56 L391.66,684.94 L392.16,684.33 L392.67,683.71 L393.17,683.10 L393.67,682.49 L393.71,682.44 M410.21,663.31 L410.23,663.29 L410.74,662.73 L411.24,662.18 L411.74,661.63 L412.24,661.08 L412.74,660.53 L413.25,659.99 L413.75,659.44 L414.25,658.90 L414.75,658.36 L415.25,657.82 L415.75,657.28 L416.26,656.74 L416.76,656.21 L417.26,655.67 L417.76,655.14 L418.26,654.61 L418.77,654.08 L419.27,653.55 L419.77,653.02 L420.27,652.50 L420.77,651.97 L421.28,651.45 L421.78,650.93 L422.28,650.41 L422.78,649.89 L423.28,649.37 L423.79,648.86 L424.29,648.34 L424.79,647.83 L425.29,647.32 L425.75,646.85 M444.07,629.10 L444.36,628.83 L444.87,628.37 L445.37,627.90 L445.87,627.44 L446.37,626.98 L446.87,626.53 L447.38,626.07 L447.88,625.61 L448.38,625.16 L448.88,624.70 L449.38,624.25 L449.89,623.80 L450.39,623.35 L450.89,622.90 L451.39,622.45 L451.89,622.00 L452.39,621.56 L452.90,621.11 L453.40,620.67 L453.90,620.22 L454.40,619.78 L454.90,619.34 L455.41,618.90 L455.91,618.46 L456.41,618.02 L456.91,617.59 L457.41,617.15 L457.92,616.72 L458.42,616.28 L458.92,615.85 L459.42,615.42 L459.92,614.99 L460.43,614.56 L460.91,614.15 M480.31,598.30 L480.50,598.16 L481.00,597.77 L481.51,597.38 L482.01,596.99 L482.51,596.60 L483.01,596.21 L483.51,595.82 L484.02,595.44 L484.52,595.05 L485.02,594.67 L485.52,594.28 L486.02,593.90 L486.53,593.52 L487.03,593.14 L487.53,592.75 L488.03,592.37 L488.53,592.00 L489.03,591.62 L489.54,591.24 L490.04,590.86 L490.54,590.49 L491.04,590.11 L491.54,589.74 L492.05,589.37 L492.55,588.99 L493.05,588.62 L493.55,588.25 L494.05,587.88 L494.56,587.51 L495.06,587.14 L495.56,586.78 L496.06,586.41 L496.56,586.04 L497.07,585.68 L497.57,585.31 L497.82,585.13 M517.73,571.27 L518.15,570.99 L518.65,570.66 L519.15,570.32 L519.65,569.99 L520.15,569.66 L520.66,569.33 L521.16,568.99 L521.66,568.66 L522.16,568.33 L522.66,568.00 L523.17,567.68 L523.67,567.35 L524.17,567.02 L524.67,566.69 L525.17,566.37 L525.67,566.04 L526.18,565.72 L526.68,565.39 L527.18,565.07 L527.68,564.75 L528.18,564.42 L528.69,564.10 L529.19,563.78 L529.69,563.46 L530.19,563.14 L530.69,562.82 L531.20,562.50 L531.70,562.18 L532.20,561.87 L532.70,561.55 L533.20,561.23 L533.71,560.92 L534.21,560.60 L534.71,560.29 L535.21,559.97 L535.51,559.78 M555.63,547.69 L555.79,547.59 L556.29,547.30 L556.79,547.01 L557.30,546.72 L557.80,546.43 L558.30,546.15 L558.80,545.86 L559.30,545.57 L559.81,545.28 L560.31,545.00 L560.81,544.71 L561.31,544.43 L561.81,544.14 L562.31,543.86 L562.82,543.57 L563.32,543.29 L563.82,543.01 L564.32,542.73 L564.82,542.44 L565.33,542.16 L565.83,541.88 L566.33,541.60 L566.83,541.32 L567.33,541.04 L567.84,540.76 L568.34,540.49 L568.84,540.21 L569.34,539.93 L569.84,539.65 L570.35,539.38 L570.85,539.10 L571.35,538.83 L571.85,538.55 L572.35,538.28 L572.86,538.00 L573.36,537.73 L573.54,537.63 M593.73,527.01 L593.94,526.91 L594.44,526.66 L594.94,526.40 L595.44,526.15 L595.94,525.90 L596.45,525.64 L596.95,525.39 L597.45,525.14 L597.95,524.89 L598.45,524.64 L598.95,524.39 L599.46,524.13 L599.96,523.88 L600.46,523.64 L600.96,523.39 L601.46,523.14 L601.97,522.89 L602.47,522.64 L602.97,522.39 L603.47,522.15 L603.97,521.90 L604.48,521.65 L604.98,521.41 L605.48,521.16 L605.98,520.92 L606.48,520.67 L606.99,520.43 L607.49,520.18 L607.99,519.94 L608.49,519.70 L608.99,519.45 L609.50,519.21 L610.00,518.97 L610.50,518.73 L611.00,518.49 L611.50,518.25 L611.69,518.15 M631.93,508.76 L632.08,508.69 L632.58,508.47 L633.09,508.24 L633.59,508.02 L634.09,507.79 L634.59,507.57 L635.09,507.34 L635.59,507.12 L636.10,506.90 L636.60,506.68 L637.10,506.45 L637.60,506.23 L638.10,506.01 L638.61,505.79 L639.11,505.57 L639.61,505.35 L640.11,505.13 L640.61,504.91 L641.12,504.69 L641.62,504.47 L642.12,504.25 L642.62,504.03 L643.12,503.81 L643.63,503.59 L644.13,503.38 L644.63,503.16 L645.13,502.94 L645.63,502.72 L646.14,502.51 L646.64,502.29 L647.14,502.08 L647.64,501.86 L648.14,501.65 L648.64,501.43 L649.15,501.22 L649.65,501.00 L649.91,500.89 M670.16,492.52 L670.23,492.49 L670.73,492.29 L671.23,492.09 L671.73,491.89 L672.23,491.69 L672.74,491.49 L673.24,491.29 L673.74,491.09 L674.24,490.89 L674.74,490.69 L675.25,490.49 L675.75,490.29 L676.25,490.10 L676.75,489.90 L677.25,489.70 L677.76,489.50 L678.26,489.31 L678.76,489.11 L679.26,488.91 L679.76,488.72 L680.27,488.52 L680.77,488.33 L681.27,488.13 L681.77,487.94 L682.27,487.74 L682.78,487.55 L683.28,487.35 L683.78,487.16 L684.28,486.96 L684.78,486.77 L685.28,486.58 L685.79,486.38 L686.29,486.19 L686.79,486.00 L687.29,485.81 L687.79,485.62 L688.15,485.48 M708.41,477.96 L708.87,477.80 L709.38,477.62 L709.88,477.44 L710.38,477.26 L710.88,477.08 L711.38,476.90 L711.89,476.72 L712.39,476.54 L712.89,476.36 L713.39,476.18 L713.89,476.00 L714.40,475.82 L714.90,475.64 L715.40,475.47 L715.90,475.29 L716.40,475.11 L716.91,474.93 L717.41,474.76 L717.91,474.58 L718.41,474.40 L718.91,474.23 L719.42,474.05 L719.92,473.88 L720.42,473.70 L720.92,473.53 L721.42,473.35 L721.92,473.18 L722.43,473.00 L722.93,472.83 L723.43,472.65 L723.93,472.48 L724.43,472.31 L724.94,472.13 L725.44,471.96 L725.94,471.79 L726.40,471.63 M746.67,464.84 L747.02,464.73 L747.52,464.56 L748.02,464.40 L748.53,464.24 L749.03,464.07 L749.53,463.91 L750.03,463.75 L750.53,463.59 L751.04,463.42 L751.54,463.26 L752.04,463.10 L752.54,462.94 L753.04,462.78 L753.55,462.62 L754.05,462.46 L754.55,462.29 L755.05,462.13 L755.55,461.97 L756.06,461.81 L756.56,461.65 L757.06,461.49 L757.56,461.34 L758.06,461.18 L758.56,461.02 L759.07,460.86 L759.57,460.70 L760.07,460.54 L760.57,460.38 L761.07,460.23 L761.58,460.07 L762.08,459.91 L762.58,459.75 L763.08,459.60 L763.58,459.44 L764.09,459.28 L764.59,459.13 L764.67,459.10 M784.93,452.94 L785.17,452.87 L785.67,452.72 L786.17,452.57 L786.67,452.42 L787.17,452.28 L787.68,452.13 L788.18,451.98 L788.68,451.83 L789.18,451.69 L789.68,451.54 L790.19,451.39 L790.69,451.24 L791.19,451.10 L791.69,450.95 L792.19,450.80 L792.70,450.66 L793.20,450.51 L793.70,450.37 L794.20,450.22 L794.70,450.08 L795.20,449.93 L795.71,449.78 L796.21,449.64 L796.71,449.50 L797.21,449.35 L797.71,449.21 L798.22,449.06 L798.72,448.92 L799.22,448.77 L799.72,448.63 L800.22,448.49 L800.73,448.34 L801.23,448.20 L801.73,448.06 L802.23,447.91 L802.73,447.77 L802.93,447.72 M823.20,442.09 L823.31,442.06 L823.81,441.93 L824.32,441.79 L824.82,441.66 L825.32,441.52 L825.82,441.39 L826.32,441.25 L826.83,441.12 L827.33,440.98 L827.83,440.85 L828.33,440.71 L828.83,440.58 L829.34,440.44 L829.84,440.31 L830.34,440.18 L830.84,440.04 L831.34,439.91 L831.84,439.78 L832.35,439.64 L832.85,439.51 L833.35,439.38 L833.85,439.24 L834.35,439.11 L834.86,438.98 L835.36,438.85 L835.86,438.72 L836.36,438.58 L836.86,438.45 L837.37,438.32 L837.87,438.19 L838.37,438.06 L838.87,437.93 L839.37,437.79 L839.88,437.66 L840.38,437.53 L840.88,437.40 L841.20,437.32 M861.47,432.17 L861.96,432.05 L862.46,431.92 L862.96,431.80 L863.47,431.68 L863.97,431.55 L864.47,431.43 L864.97,431.30 L865.47,431.18 L865.98,431.06 L866.48,430.93 L866.98,430.81 L867.48,430.69 L867.98,430.56 L868.48,430.44 L868.99,430.32 L869.49,430.20 L869.99,430.07 L870.49,429.95 L870.99,429.83 L871.50,429.71 L872.00,429.59 L872.50,429.46 L873.00,429.34 L873.50,429.22 L874.01,429.10 L874.51,428.98 L875.01,428.86 L875.51,428.74 L876.01,428.62 L876.52,428.50 L877.02,428.37 L877.52,428.25 L878.02,428.13 L878.52,428.01 L879.03,427.89 L879.47,427.79 M880.60,427.52 L881.03,427.42 L881.53,427.30 L882.04,427.18 L882.54,427.06 L883.04,426.94 L883.54,426.82 L884.04,426.70 L884.55,426.58 L885.05,426.46 L885.55,426.35 L886.05,426.23 L886.55,426.11 L887.06,425.99 L887.56,425.87 L888.06,425.76 L888.56,425.64 L889.06,425.52 L889.57,425.40 L890.07,425.29 L890.57,425.17 L891.07,425.05 L891.57,424.94 L892.08,424.82 L892.58,424.70 L893.08,424.59 L893.58,424.47 L894.08,424.35 L894.58,424.24 L895.09,424.12 L895.59,424.01 L896.09,423.89 L896.59,423.78 L897.09,423.66 L897.60,423.55 L898.10,423.43 L898.60,423.32 L898.60,423.32" stroke-width="4.3"/>
<path d="M297.15,1061.86 L297.30,1061.48 L297.80,1060.18 L298.31,1058.87 L298.81,1057.58 L299.31,1056.28 L299.81,1054.98 L300.31,1053.69 L300.82,1052.40 L301.32,1051.11 L301.82,1049.83 L302.32,1048.55 L302.82,1047.27 L303.32,1045.99 L303.83,1044.72 L304.16,1043.87 M312.32,1023.69 L312.36,1023.60 L312.86,1022.39 L313.36,1021.18 L313.87,1019.98 L314.37,1018.79 L314.87,1017.59 L315.37,1016.40 L315.87,1015.22 L316.37,1014.04 L316.88,1012.86 L317.38,1011.69 L317.88,1010.52 L318.38,1009.36 L318.88,1008.20 L319.39,1007.05 L319.89,1005.90 L319.97,1005.71 M329.13,985.54 L329.42,984.90 L329.93,983.84 L330.43,982.79 L330.93,981.74 L331.43,980.69 L331.93,979.65 L332.44,978.62 L332.94,977.59 L333.44,976.56 L333.94,975.54 L334.44,974.52 L334.95,973.51 L335.45,972.50 L335.95,971.50 L336.45,970.50 L336.95,969.51 L337.46,968.52 L337.93,967.58 M348.69,947.46 L349.00,946.91 L349.50,946.02 L350.00,945.13 L350.51,944.24 L351.01,943.36 L351.51,942.48 L352.01,941.61 L352.51,940.74 L353.01,939.87 L353.52,939.01 L354.02,938.15 L354.52,937.29 L355.02,936.44 L355.52,935.59 L356.03,934.74 L356.53,933.90 L357.03,933.06 L357.53,932.22 L358.03,931.39 L358.54,930.56 L359.04,929.73 L359.13,929.57 M371.90,909.60 L372.09,909.31 L372.59,908.57 L373.09,907.82 L373.59,907.08 L374.10,906.34 L374.60,905.61 L375.10,904.88 L375.60,904.15 L376.10,903.42 L376.61,902.69 L377.11,901.97 L377.61,901.25 L378.11,900.53 L378.61,899.82 L379.11,899.11 L379.62,898.40 L380.12,897.69 L380.62,896.98 L381.12,896.28 L381.62,895.58 L382.13,894.88 L382.63,894.19 L383.13,893.50 L383.63,892.81 L384.13,892.12 L384.27,891.93 M399.31,872.36 L399.69,871.88 L400.20,871.26 L400.70,870.65 L401.20,870.03 L401.70,869.42 L402.20,868.80 L402.70,868.19 L403.21,867.59 L403.71,866.98 L404.21,866.37 L404.71,865.77 L405.21,865.17 L405.72,864.57 L406.22,863.97 L406.72,863.38 L407.22,862.78 L407.72,862.19 L408.23,861.60 L408.73,861.01 L409.23,860.43 L409.73,859.84 L410.23,859.26 L410.74,858.68 L411.24,858.10 L411.74,857.52 L412.24,856.94 L412.74,856.37 L413.25,855.79 L413.72,855.26 M430.90,836.61 L431.31,836.18 L431.82,835.67 L432.32,835.15 L432.82,834.64 L433.32,834.12 L433.82,833.61 L434.33,833.10 L434.83,832.59 L435.33,832.08 L435.83,831.57 L436.33,831.07 L436.84,830.56 L437.34,830.06 L437.84,829.56 L438.34,829.06 L438.84,828.56 L439.34,828.06 L439.85,827.56 L440.35,827.06 L440.85,826.57 L441.35,826.08 L441.85,825.58 L442.36,825.09 L442.86,824.60 L443.36,824.12 L443.86,823.63 L444.36,823.14 L444.87,822.66 L445.37,822.17 L445.87,821.69 L446.37,821.21 L446.87,820.73 L446.98,820.63 M465.68,803.53 L465.95,803.30 L466.45,802.86 L466.95,802.42 L467.45,801.98 L467.95,801.55 L468.46,801.11 L468.96,800.68 L469.46,800.25 L469.96,799.82 L470.46,799.38 L470.97,798.95 L471.47,798.53 L471.97,798.10 L472.47,797.67 L472.97,797.24 L473.48,796.82 L473.98,796.39 L474.48,795.97 L474.98,795.55 L475.48,795.12 L475.98,794.70 L476.49,794.28 L476.99,793.86 L477.49,793.45 L477.99,793.03 L478.49,792.61 L479.00,792.20 L479.50,791.78 L480.00,791.37 L480.50,790.96 L481.00,790.54 L481.51,790.13 L482.01,789.72 L482.51,789.31 L482.77,789.10 M502.28,773.81 L502.59,773.58 L503.09,773.20 L503.59,772.83 L504.09,772.45 L504.59,772.07 L505.10,771.70 L505.60,771.32 L506.10,770.95 L506.60,770.58 L507.10,770.21 L507.61,769.83 L508.11,769.46 L508.61,769.09 L509.11,768.72 L509.61,768.35 L510.12,767.99 L510.62,767.62 L511.12,767.25 L511.62,766.89 L512.12,766.52 L512.62,766.16 L513.13,765.79 L513.63,765.43 L514.13,765.07 L514.63,764.70 L515.13,764.34 L515.64,763.98 L516.14,763.62 L516.64,763.26 L517.14,762.90 L517.64,762.55 L518.15,762.19 L518.65,761.83 L519.15,761.47 L519.65,761.12 L519.86,760.97 M539.73,747.38 L540.23,747.05 L540.73,746.72 L541.23,746.39 L541.74,746.06 L542.24,745.73 L542.74,745.40 L543.24,745.07 L543.74,744.74 L544.25,744.42 L544.75,744.09 L545.25,743.76 L545.75,743.44 L546.25,743.11 L546.76,742.79 L547.26,742.46 L547.76,742.14 L548.26,741.81 L548.76,741.49 L549.26,741.17 L549.77,740.85 L550.27,740.53 L550.77,740.21 L551.27,739.89 L551.77,739.57 L552.28,739.25 L552.78,738.93 L553.28,738.61 L553.78,738.29 L554.28,737.97 L554.79,737.66 L555.29,737.34 L555.79,737.03 L556.29,736.71 L556.79,736.40 L557.30,736.08 L557.53,735.94 M577.57,723.80 L577.87,723.62 L578.38,723.32 L578.88,723.03 L579.38,722.74 L579.88,722.45 L580.38,722.15 L580.89,721.86 L581.39,721.57 L581.89,721.28 L582.39,720.99 L582.89,720.70 L583.40,720.41 L583.90,720.12 L584.40,719.83 L584.90,719.55 L585.40,719.26 L585.90,718.97 L586.41,718.68 L586.91,718.40 L587.41,718.11 L587.91,717.83 L588.41,717.54 L588.92,717.26 L589.42,716.97 L589.92,716.69 L590.42,716.41 L590.92,716.13 L591.43,715.84 L591.93,715.56 L592.43,715.28 L592.93,715.00 L593.43,714.72 L593.94,714.44 L594.44,714.16 L594.94,713.88 L595.44,713.60 L595.46,713.59 M615.59,702.80 L616.02,702.57 L616.52,702.31 L617.02,702.05 L617.53,701.79 L618.03,701.53 L618.53,701.27 L619.03,701.02 L619.53,700.76 L620.04,700.50 L620.54,700.24 L621.04,699.99 L621.54,699.73 L622.04,699.48 L622.54,699.22 L623.05,698.97 L623.55,698.71 L624.05,698.46 L624.55,698.20 L625.05,697.95 L625.56,697.70 L626.06,697.45 L626.56,697.19 L627.06,696.94 L627.56,696.69 L628.07,696.44 L628.57,696.19 L629.07,695.94 L629.57,695.69 L630.07,695.44 L630.58,695.19 L631.08,694.95 L631.58,694.70 L632.08,694.45 L632.58,694.20 L633.09,693.96 L633.54,693.74 M653.70,684.17 L654.17,683.96 L654.67,683.73 L655.17,683.50 L655.67,683.27 L656.17,683.04 L656.68,682.81 L657.18,682.58 L657.68,682.36 L658.18,682.13 L658.68,681.90 L659.18,681.68 L659.69,681.45 L660.19,681.22 L660.69,681.00 L661.19,680.77 L661.69,680.55 L662.20,680.32 L662.70,680.10 L663.20,679.88 L663.70,679.65 L664.20,679.43 L664.71,679.21 L665.21,678.99 L665.71,678.76 L666.21,678.54 L666.71,678.32 L667.22,678.10 L667.72,677.88 L668.22,677.66 L668.72,677.44 L669.22,677.22 L669.73,677.00 L670.23,676.79 L670.73,676.57 L671.23,676.35 L671.67,676.16 M691.86,667.71 L692.31,667.52 L692.81,667.32 L693.32,667.12 L693.82,666.91 L694.32,666.71 L694.82,666.51 L695.32,666.31 L695.83,666.11 L696.33,665.91 L696.83,665.71 L697.33,665.51 L697.83,665.31 L698.33,665.11 L698.84,664.91 L699.34,664.71 L699.84,664.51 L700.34,664.32 L700.84,664.12 L701.35,663.92 L701.85,663.72 L702.35,663.53 L702.85,663.33 L703.35,663.14 L703.86,662.94 L704.36,662.75 L704.86,662.55 L705.36,662.36 L705.86,662.16 L706.37,661.97 L706.87,661.77 L707.37,661.58 L707.87,661.39 L708.37,661.20 L708.87,661.00 L709.38,660.81 L709.84,660.63 M730.04,653.18 L730.46,653.03 L730.96,652.85 L731.46,652.67 L731.96,652.50 L732.47,652.32 L732.97,652.14 L733.47,651.96 L733.97,651.79 L734.47,651.61 L734.97,651.43 L735.48,651.26 L735.98,651.08 L736.48,650.91 L736.98,650.73 L737.48,650.56 L737.99,650.38 L738.49,650.21 L738.99,650.03 L739.49,649.86 L739.99,649.69 L740.50,649.51 L741.00,649.34 L741.50,649.17 L742.00,649.00 L742.50,648.83 L743.01,648.65 L743.51,648.48 L744.01,648.31 L744.51,648.14 L745.01,647.97 L745.51,647.80 L746.02,647.63 L746.52,647.46 L747.02,647.29 L747.52,647.12 L748.02,646.95 L748.03,646.95 M768.23,640.40 L768.60,640.28 L769.11,640.12 L769.61,639.97 L770.11,639.81 L770.61,639.65 L771.11,639.50 L771.61,639.34 L772.12,639.19 L772.62,639.03 L773.12,638.88 L773.62,638.72 L774.12,638.57 L774.63,638.41 L775.13,638.26 L775.63,638.11 L776.13,637.95 L776.63,637.80 L777.14,637.65 L777.64,637.50 L778.14,637.34 L778.64,637.19 L779.14,637.04 L779.65,636.89 L780.15,636.74 L780.65,636.59 L781.15,636.44 L781.65,636.28 L782.15,636.13 L782.66,635.98 L783.16,635.84 L783.66,635.69 L784.16,635.54 L784.66,635.39 L785.17,635.24 L785.67,635.09 L786.17,634.94 L786.22,634.93 M806.42,629.18 L806.75,629.09 L807.25,628.95 L807.75,628.81 L808.25,628.68 L808.76,628.54 L809.26,628.40 L809.76,628.27 L810.26,628.13 L810.76,628.00 L811.27,627.86 L811.77,627.73 L812.27,627.59 L812.77,627.45 L813.27,627.32 L813.78,627.19 L814.28,627.05 L814.78,626.92 L815.28,626.78 L815.78,626.65 L816.29,626.52 L816.79,626.38 L817.29,626.25 L817.79,626.12 L818.29,625.99 L818.79,625.85 L819.30,625.72 L819.80,625.59 L820.30,625.46 L820.80,625.33 L821.30,625.20 L821.81,625.07 L822.31,624.94 L822.81,624.81 L823.31,624.68 L823.81,624.55 L824.32,624.42 L824.42,624.39 M844.62,619.37 L844.89,619.30 L845.40,619.18 L845.90,619.06 L846.40,618.94 L846.90,618.82 L847.40,618.70 L847.91,618.58 L848.41,618.47 L848.91,618.35 L849.41,618.23 L849.91,618.11 L850.42,617.99 L850.92,617.88 L851.42,617.76 L851.92,617.64 L852.42,617.52 L852.93,617.41 L853.43,617.29 L853.93,617.17 L854.43,617.06 L854.93,616.94 L855.44,616.83 L855.94,616.71 L856.44,616.59 L856.94,616.48 L857.44,616.36 L857.94,616.25 L858.45,616.14 L858.95,616.02 L859.45,615.91 L859.95,615.79 L860.45,615.68 L860.96,615.57 L861.46,615.45 L861.96,615.34 L862.46,615.23 L862.62,615.19 M882.82,610.82 L883.04,610.78 L883.54,610.67 L884.04,610.57 L884.55,610.47 L885.05,610.36 L885.55,610.26 L886.05,610.15 L886.55,610.05 L887.06,609.95 L887.56,609.85 L888.06,609.74 L888.56,609.64 L889.06,609.54 L889.57,609.44 L890.07,609.34 L890.57,609.23 L891.07,609.13 L891.57,609.03 L892.08,608.93 L892.58,608.83 L893.08,608.73 L893.58,608.63 L894.08,608.53 L894.58,608.43 L895.09,608.33 L895.59,608.23 L896.09,608.13 L896.59,608.03 L897.09,607.93 L897.60,607.83 L898.10,607.73 L898.60,607.64 L898.60,607.64" stroke-width="4.3"/>
</g>
<text transform="translate(745.10,277.60) scale(0.9808,1)" x="-0.70" y="0" style="font-size:37.00px;font-style:italic;font-weight:bold;" >ṁ</text>
<rect x="782.10" y="264.55" width="21.90" height="1.90" fill="#000"/>
<rect x="782.10" y="271.15" width="21.90" height="1.90" fill="#000"/>
<text transform="translate(813.60,277.60) scale(1.0689,1)" x="-1.29" y="0" style="font-size:34.00px;font-weight:bold;" >0.020</text>
<text transform="translate(893.80,277.60) scale(1.1175,1)" x="-0.45" y="0" style="font-size:33.00px;font-style:italic;font-weight:bold;" >kg</text>
<text transform="translate(935.90,277.60) scale(0.7653,1)" x="1.51" y="0" style="font-size:33.00px;font-style:italic;" >/</text>
<text transform="translate(952.80,277.60) scale(1.0746,1)" x="0.18" y="0" style="font-size:33.00px;font-style:italic;font-weight:bold;" >s</text>
<path d="M830.6,286.8 L786.3,322.5 M830.6,285.8 V333.5" stroke="#000" stroke-width="3.0" fill="none"/>
<path d="M772.3,334.5 L786.6,314.8 L794.4,324.4 Z" fill="#000"/>
<path d="M824.6,311.2 H836.1 V320.2 L834.6,327.2 H826.6 L824.6,320.2 Z" fill="#000"/>
<text transform="translate(740.10,392.70) scale(0.9808,1)" x="-0.70" y="0" style="font-size:37.00px;font-style:italic;font-weight:bold;" >ṁ</text>
<rect x="776.00" y="379.95" width="21.40" height="1.90" fill="#000"/>
<rect x="776.00" y="386.55" width="21.40" height="1.90" fill="#000"/>
<text transform="translate(803.00,392.70) scale(1.0533,1)" x="-1.29" y="0" style="font-size:34.00px;font-weight:bold;" >0.015</text>
<text transform="translate(881.50,392.70) scale(1.0985,1)" x="-0.45" y="0" style="font-size:33.00px;font-style:italic;font-weight:bold;" >kg</text>
<text transform="translate(921.90,392.70) scale(0.7653,1)" x="1.51" y="0" style="font-size:33.00px;font-style:italic;" >/</text>
<text transform="translate(937.60,392.70) scale(1.0829,1)" x="0.18" y="0" style="font-size:33.00px;font-style:italic;font-weight:bold;" >s</text>
<path d="M825.8,400.8 L789.9,429.6 M825.8,399.8 V441.0" stroke="#000" stroke-width="3.0" fill="none"/>
<path d="M775.9,441.6 L790.2,421.9 L798.0,431.5 Z" fill="#000"/>
<path d="M819.8,416.5 H831.3 V425.5 L829.8,432.5 H821.8 L819.8,425.5 Z" fill="#000"/>
<text transform="translate(733.40,565.40) scale(1.0492,1)" x="-0.70" y="0" style="font-size:37.00px;font-style:italic;font-weight:bold;" >ṁ</text>
<rect x="768.30" y="552.85" width="21.30" height="1.90" fill="#000"/>
<rect x="768.30" y="559.45" width="21.30" height="1.90" fill="#000"/>
<text transform="translate(796.90,565.40) scale(1.0093,1)" x="-1.29" y="0" style="font-size:34.00px;font-weight:bold;" >0.010</text>
<text transform="translate(872.60,565.40) scale(1.0638,1)" x="-0.45" y="0" style="font-size:33.00px;font-style:italic;font-weight:bold;" >kg</text>
<text transform="translate(911.90,565.40) scale(0.7653,1)" x="1.51" y="0" style="font-size:33.00px;font-style:italic;" >/</text>
<text transform="translate(928.80,565.40) scale(1.1163,1)" x="0.18" y="0" style="font-size:33.00px;font-style:italic;font-weight:bold;" >s</text>
<path d="M818.2,576.8 L777.2,609.8 M818.2,575.8 V626.0" stroke="#000" stroke-width="3.0" fill="none"/>
<path d="M763.2,621.8 L777.5,602.1 L785.3,611.7 Z" fill="#000"/>
<path d="M812.2,599.4 H823.7 V608.4 L822.2,615.4 H814.2 L812.2,608.4 Z" fill="#000"/>
</svg>
</body></html>
